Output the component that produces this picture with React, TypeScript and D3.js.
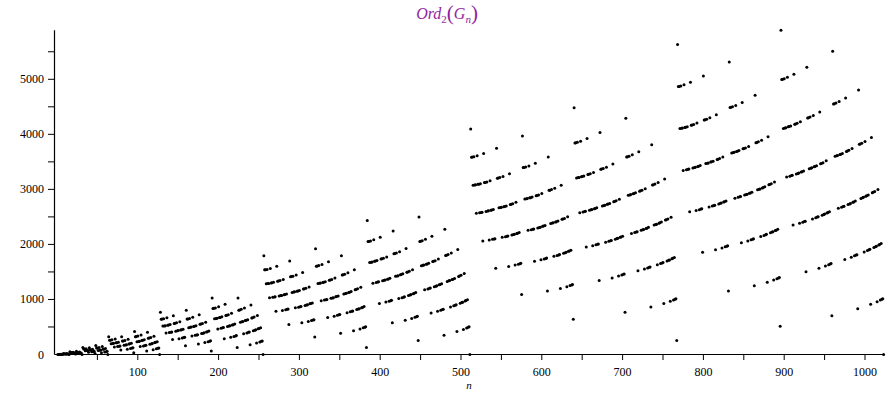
import React from "react";
import * as d3 from "d3";

// Ord_2(G_n) values, read per block of n
const ord_1_63 = [
  0, 1, 0, 5, 2, 4, 0, 17, 10, 12, 4, 18, 8, 11, 0, 49, 34, 36, 20, 42, 24, 27, 8, 58, 36, 39, 16, 47, 22, 26, 0,
  129, 98, 100, 68, 106, 72, 75, 40, 122, 84, 87, 48, 95, 54, 58, 16, 162, 116, 119, 72, 127, 78, 82, 32, 147, 94, 98, 44, 108, 52, 57, 0,
];
const ord_64_127 = [
  321, 258, 260, 196, 266, 200, 203, 136, 282, 212, 215, 144, 223, 150, 154, 80,
  322, 244, 247, 168, 255, 174, 178, 96, 275, 190, 194, 108, 204, 116, 121, 32,
  418, 324, 327, 232, 335, 238, 242, 144, 355, 254, 258, 156, 268, 164, 169, 64,
  403, 294, 298, 188, 308, 196, 201, 88, 332, 216, 221, 104, 233, 114, 120, 0,
];
const ord_128_255 = [
  769, 642, 644, 516, 650, 520, 523, 392, 666, 532, 535, 400, 543, 406, 410, 272,
  706, 564, 567, 424, 575, 430, 434, 288, 595, 446, 450, 300, 460, 308, 313, 160,
  802, 644, 647, 488, 655, 494, 498, 336, 675, 510, 514, 348, 524, 356, 361, 192,
  723, 550, 554, 380, 564, 388, 393, 216, 588, 408, 413, 232, 425, 242, 248, 64,
  1026, 836, 839, 648, 847, 654, 658, 464, 867, 670, 674, 476, 684, 484, 489, 288,
  915, 710, 714, 508, 724, 516, 521, 312, 748, 536, 541, 328, 553, 338, 344, 128,
  1027, 806, 810, 588, 820, 596, 601, 376, 844, 616, 621, 392, 633, 402, 408, 176,
  900, 664, 669, 432, 681, 442, 448, 208, 709, 466, 472, 228, 486, 240, 247, 0,
];
const ord_256_383 = [
  1793, 1538, 1540, 1284, 1546, 1288, 1291, 1032, 1562, 1300, 1303, 1040, 1311, 1046, 1050, 784,
  1602, 1332, 1335, 1064, 1343, 1070, 1074, 800, 1363, 1086, 1090, 812, 1100, 820, 825, 544,
  1698, 1412, 1415, 1128, 1423, 1134, 1138, 848, 1443, 1150, 1154, 860, 1164, 868, 873, 576,
  1491, 1190, 1194, 892, 1204, 900, 905, 600, 1228, 920, 925, 616, 937, 626, 632, 320,
  1922, 1604, 1607, 1288, 1615, 1294, 1298, 976, 1635, 1310, 1314, 988, 1324, 996, 1001, 672,
  1683, 1350, 1354, 1020, 1364, 1028, 1033, 696, 1388, 1048, 1053, 712, 1065, 722, 728, 384,
  1795, 1446, 1450, 1100, 1460, 1108, 1113, 760, 1484, 1128, 1133, 776, 1145, 786, 792, 432,
  1540, 1176, 1181, 816, 1193, 826, 832, 464, 1221, 850, 856, 484, 870, 496, 503, 128,
];
const ord_384_511 = [
  2434, 2052, 2055, 1672, 2063, 1678, 1682, 1296, 2083, 1694, 1698, 1308, 1708, 1316, 1321, 928,
  2131, 1734, 1738, 1340, 1748, 1348, 1353, 952, 1772, 1368, 1373, 968, 1385, 978, 984, 576,
  2243, 1830, 1834, 1420, 1844, 1428, 1433, 1016, 1868, 1448, 1453, 1032, 1465, 1042, 1048, 624,
  1924, 1496, 1501, 1072, 1513, 1082, 1088, 656, 1541, 1106, 1112, 676, 1126, 688, 695, 256,
  2499, 2054, 2058, 1612, 2068, 1620, 1625, 1176, 2092, 1640, 1645, 1192, 1657, 1202, 1208, 752,
  2148, 1688, 1693, 1232, 1705, 1242, 1248, 784, 1733, 1266, 1272, 804, 1286, 816, 823, 352,
  2276, 1800, 1805, 1328, 1817, 1338, 1344, 864, 1845, 1362, 1368, 884, 1382, 896, 903, 416,
  1909, 1418, 1424, 932, 1438, 944, 951, 456, 1470, 972, 979, 480, 995, 494, 502, 0,
];
const ord_512_639 = [
  4097, 3586, 3588, 3076, 3594, 3080, 3083, 2568, 3610, 3092, 3095, 2576, 3103, 2582, 2586, 2064,
  3650, 3124, 3127, 2600, 3135, 2606, 2610, 2080, 3155, 2622, 2626, 2092, 2636, 2100, 2105, 1568,
  3746, 3204, 3207, 2664, 3215, 2670, 2674, 2128, 3235, 2686, 2690, 2140, 2700, 2148, 2153, 1600,
  3283, 2726, 2730, 2172, 2740, 2180, 2185, 1624, 2764, 2200, 2205, 1640, 2217, 1650, 1656, 1088,
  3970, 3396, 3399, 2824, 3407, 2830, 2834, 2256, 3427, 2846, 2850, 2268, 2860, 2276, 2281, 1696,
  3475, 2886, 2890, 2300, 2900, 2308, 2313, 1720, 2924, 2328, 2333, 1736, 2345, 1746, 1752, 1152,
  3587, 2982, 2986, 2380, 2996, 2388, 2393, 1784, 3020, 2408, 2413, 1800, 2425, 1810, 1816, 1200,
  3076, 2456, 2461, 1840, 2473, 1850, 1856, 1232, 2501, 1874, 1880, 1252, 1894, 1264, 1271, 640,
];
const ord_640_767 = [
  4482, 3844, 3847, 3208, 3855, 3214, 3218, 2576, 3875, 3230, 3234, 2588, 3244, 2596, 2601, 1952,
  3923, 3270, 3274, 2620, 3284, 2628, 2633, 1976, 3308, 2648, 2653, 1992, 2665, 2002, 2008, 1344,
  4035, 3366, 3370, 2700, 3380, 2708, 2713, 2040, 3404, 2728, 2733, 2056, 2745, 2066, 2072, 1392,
  3460, 2776, 2781, 2096, 2793, 2106, 2112, 1424, 2821, 2130, 2136, 1444, 2150, 1456, 1463, 768,
  4291, 3590, 3594, 2892, 3604, 2900, 2905, 2200, 3628, 2920, 2925, 2216, 2937, 2226, 2232, 1520,
  3684, 2968, 2973, 2256, 2985, 2266, 2272, 1552, 3013, 2290, 2296, 1572, 2310, 1584, 1591, 864,
  3812, 3080, 3085, 2352, 3097, 2362, 2368, 1632, 3125, 2386, 2392, 1652, 2406, 1664, 1671, 928,
  3189, 2442, 2448, 1700, 2462, 1712, 1719, 968, 2494, 1740, 1747, 992, 1763, 1006, 1014, 256,
];
const ord_768_895 = [
  5634, 4868, 4871, 4104, 4879, 4110, 4114, 3344, 4899, 4126, 4130, 3356, 4140, 3364, 3369, 2592,
  4947, 4166, 4170, 3388, 4180, 3396, 3401, 2616, 4204, 3416, 3421, 2632, 3433, 2642, 2648, 1856,
  5059, 4262, 4266, 3468, 4276, 3476, 3481, 2680, 4300, 3496, 3501, 2696, 3513, 2706, 2712, 1904,
  4356, 3544, 3549, 2736, 3561, 2746, 2752, 1936, 3589, 2770, 2776, 1956, 2790, 1968, 1975, 1152,
  5315, 4486, 4490, 3660, 4500, 3668, 3673, 2840, 4524, 3688, 3693, 2856, 3705, 2866, 2872, 2032,
  4580, 3736, 3741, 2896, 3753, 2906, 2912, 2064, 3781, 2930, 2936, 2084, 2950, 2096, 2103, 1248,
  4708, 3848, 3853, 2992, 3865, 3002, 3008, 2144, 3893, 3026, 3032, 2164, 3046, 2176, 2183, 1312,
  3957, 3082, 3088, 2212, 3102, 2224, 2231, 1352, 3134, 2252, 2259, 1376, 2275, 1390, 1398, 512,
];
const ord_896_1023 = [
  5891, 4998, 5002, 4108, 5012, 4116, 4121, 3224, 5036, 4136, 4141, 3240, 4153, 3250, 3256, 2352,
  5092, 4184, 4189, 3280, 4201, 3290, 3296, 2384, 4229, 3314, 3320, 2404, 3334, 2416, 2423, 1504,
  5220, 4296, 4301, 3376, 4313, 3386, 3392, 2464, 4341, 3410, 3416, 2484, 3430, 2496, 2503, 1568,
  4405, 3466, 3472, 2532, 3486, 2544, 2551, 1608, 3518, 2572, 2579, 1632, 2595, 1646, 1654, 704,
  5508, 4552, 4557, 3600, 4569, 3610, 3616, 2656, 4597, 3634, 3640, 2676, 3654, 2688, 2695, 1728,
  4661, 3690, 3696, 2724, 3710, 2736, 2743, 1768, 3742, 2764, 2771, 1792, 2787, 1806, 1814, 832,
  4805, 3818, 3824, 2836, 3838, 2848, 2855, 1864, 3870, 2876, 2883, 1888, 2899, 1902, 1910, 912,
  3942, 2940, 2947, 1944, 2963, 1958, 1966, 960, 2999, 1990, 1998, 988, 2016, 1004, 1013, 0,
];

const ordValues = [
  ...ord_1_63, ...ord_64_127, ...ord_128_255, ...ord_256_383, ...ord_384_511,
  ...ord_512_639, ...ord_640_767, ...ord_768_895, ...ord_896_1023,
];
const nFirst = 1;
const xTickValues = [50, 100, 150, 200, 250, 300, 350, 400, 450, 500, 550, 600, 650, 700, 750, 800, 850, 900, 950, 1000];
const xTickLabels = [100, 200, 300, 400, 500, 600, 700, 800, 900, 1000];
const yTickValues = [500, 1000, 1500, 2000, 2500, 3000, 3500, 4000, 4500, 5000, 5500];
const yTickLabels = [0, 1000, 2000, 3000, 4000, 5000];

export default function App() {
  const x = d3.scaleLinear().domain([0, 1000]).range([57, 865]);
  const y = d3.scaleLinear().domain([0, 5000]).range([354.5, 79.3]);
  const axisX0 = 54.5;
  const axisX1 = 885;
  const axisTop = y(d3.max(ordValues) as number);
  return (
    <svg
      width={894}
      height={400}
      style={{ position: "absolute", left: 0, top: 0, background: "#fff" }}
      fontFamily="'Liberation Serif', 'Times New Roman', serif"
    >
      <rect x={0} y={0} width={894} height={400} fill="#fff" />
      <text x={447} y={19} textAnchor="middle" fill="#921e9e" fontSize={16}>
        <tspan fontStyle="italic">Ord</tspan>
        <tspan fontSize={11} dy={4}>2</tspan>
        <tspan fontSize={21} dy={-3}>(</tspan>
        <tspan fontStyle="italic" fontSize={16} dy={-1}>G</tspan>
        <tspan fontStyle="italic" fontSize={11} dy={4}>n</tspan>
        <tspan fontSize={21} dy={-3}>)</tspan>
      </text>
      <line x1={axisX0} x2={axisX1} y1={y(0)} y2={y(0)} stroke="#000" strokeWidth={1.2} />
      <line x1={axisX0} x2={axisX0} y1={y(0)} y2={axisTop} stroke="#000" strokeWidth={1.2} />
      {xTickValues.map((t) => (
        <line key={"xt" + t} x1={x(t)} x2={x(t)} y1={y(0)} y2={y(0) + 5.5} stroke="#000" />
      ))}
      {xTickLabels.map((t) => (
        <text key={"xl" + t} x={x(t)} y={376} textAnchor="middle" fontSize={12} fill="#000">{t}</text>
      ))}
      {yTickValues.map((t) => (
        <line key={"yt" + t} x1={axisX0 - 6.5} x2={axisX0} y1={y(t)} y2={y(t)} stroke="#000" />
      ))}
      {yTickLabels.map((t) => (
        <text key={"yl" + t} x={44} y={y(t) + 4} textAnchor="end" fontSize={12} fill="#000">{t}</text>
      ))}
      <text x={469} y={389} textAnchor="middle" fontSize={11} fontStyle="italic" fill="#000">n</text>
      {ordValues.map((v, i) => (
        <circle key={i} cx={x(nFirst + i)} cy={y(v)} r={1.5} fill="#000" />
      ))}
    </svg>
  );
}
